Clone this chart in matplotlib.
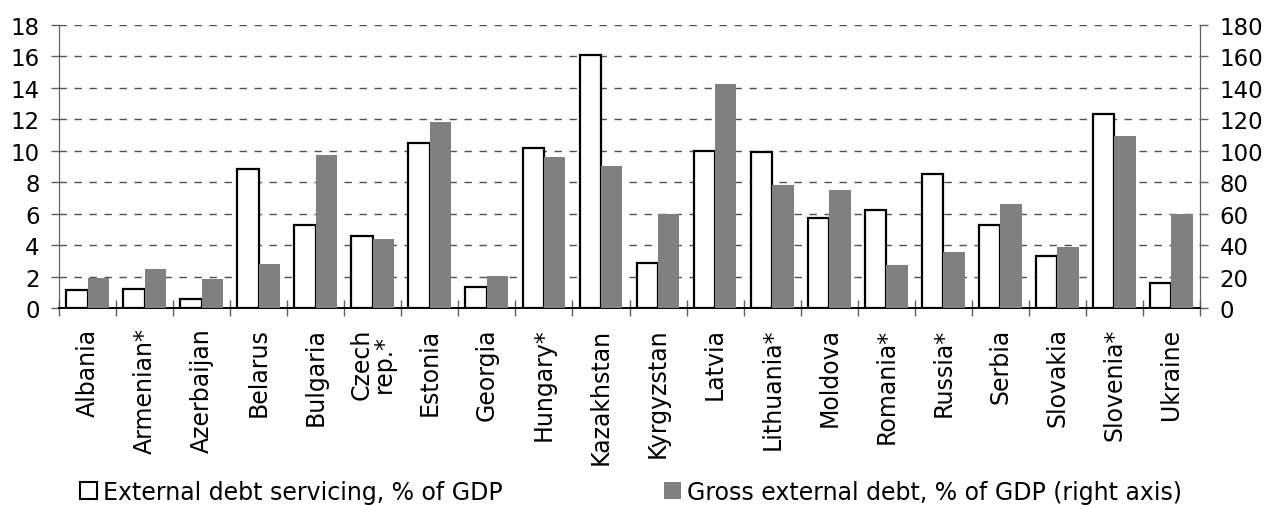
import numpy as np
import matplotlib
matplotlib.use('Agg')
import matplotlib.pyplot as plt
from matplotlib.patches import Patch

countries = ['Albania', 'Armenian*', 'Azerbaijan', 'Belarus', 'Bulgaria', 'Czech\nrep.*',
             'Estonia', 'Georgia', 'Hungary*', 'Kazakhstan', 'Kyrgyzstan', 'Latvia',
             'Lithuania*', 'Moldova', 'Romania*', 'Russia*', 'Serbia', 'Slovakia',
             'Slovenia*', 'Ukraine']
debt_servicing = [1.13, 1.19, 0.55, 8.86, 5.3, 4.58, 10.48, 1.34, 10.16, 16.09,
                  2.88, 9.97, 9.9, 5.7, 6.25, 8.54, 5.3, 3.29, 12.34, 1.61]
gross_debt = [19.1, 24.8, 18.4, 28.0, 97.3, 43.9, 118.3, 20.4, 96.0, 90.3,
              60.0, 142.5, 78.2, 75.0, 27.4, 35.6, 66.2, 38.8, 109.4, 59.8]

plt.rcParams['font.family'] = 'DejaVu Sans'
fs_lab = 17
fs_tick = 16.5

fig = plt.figure(figsize=(12.67, 5.06), dpi=100)
ax1 = fig.add_axes([0.0466, 0.3893, 0.9005, 0.5593])
ax2 = ax1.twinx()

x = np.arange(len(countries))
w = 0.375
ax1.bar(x - w / 2, debt_servicing, w, color='white', edgecolor='black', linewidth=1.6, zorder=3)
ax2.bar(x + w / 2, gross_debt, w, color='#808080', edgecolor='none', zorder=3)

ax1.set_xlim(-0.5, len(countries) - 0.5)
ax1.set_ylim(0, 18)
ax2.set_ylim(0, 180)
ax1.set_yticks(np.arange(0, 19, 2))
ax2.set_yticks(np.arange(0, 181, 20))

ax1.set_axisbelow(True)
ax1.yaxis.grid(True, color='#505050', linestyle=(0, (5.3, 5.5)), linewidth=1.0)

ax1.set_xticks(x)
ax1.set_xticklabels(countries, rotation=90, fontsize=fs_lab, va='top', ha='center', linespacing=0.95)
ax1.set_xticks(np.arange(-0.5, len(countries), 1), minor=True)
ax1.tick_params(axis='x', which='major', length=0, pad=14)
ax1.tick_params(axis='x', which='minor', direction='inout', length=11, width=1, color='#606060')
ax1.tick_params(axis='y', direction='out', length=6, width=1, color='#606060', labelsize=fs_tick, pad=8)
ax2.tick_params(axis='y', direction='out', length=6, width=1, color='#606060', labelsize=fs_tick, pad=8)

for ax in (ax1, ax2):
    ax.spines['top'].set_visible(False)
    ax.spines['left'].set_color('#606060')
    ax.spines['right'].set_color('#606060')
    ax.spines['bottom'].set_color('black')
    ax.spines['bottom'].set_linewidth(1.2)

legend_entries = [
    (Patch(facecolor='white', edgecolor='black', linewidth=1.5), 'External debt servicing, % of GDP', 80),
    (Patch(facecolor='#808080', edgecolor='none'), 'Gross external debt, % of GDP (right axis)', 664),
]
for handle, label, xpix in legend_entries:
    fig.legend([handle], [label], loc='center left', bbox_to_anchor=(xpix / 1267, 1 - 493 / 506),
               frameon=False, fontsize=fs_lab, handlelength=0.72, handleheight=0.72,
               handletextpad=0.25, borderpad=0, borderaxespad=0)

fig.savefig('out.png', dpi=100)
